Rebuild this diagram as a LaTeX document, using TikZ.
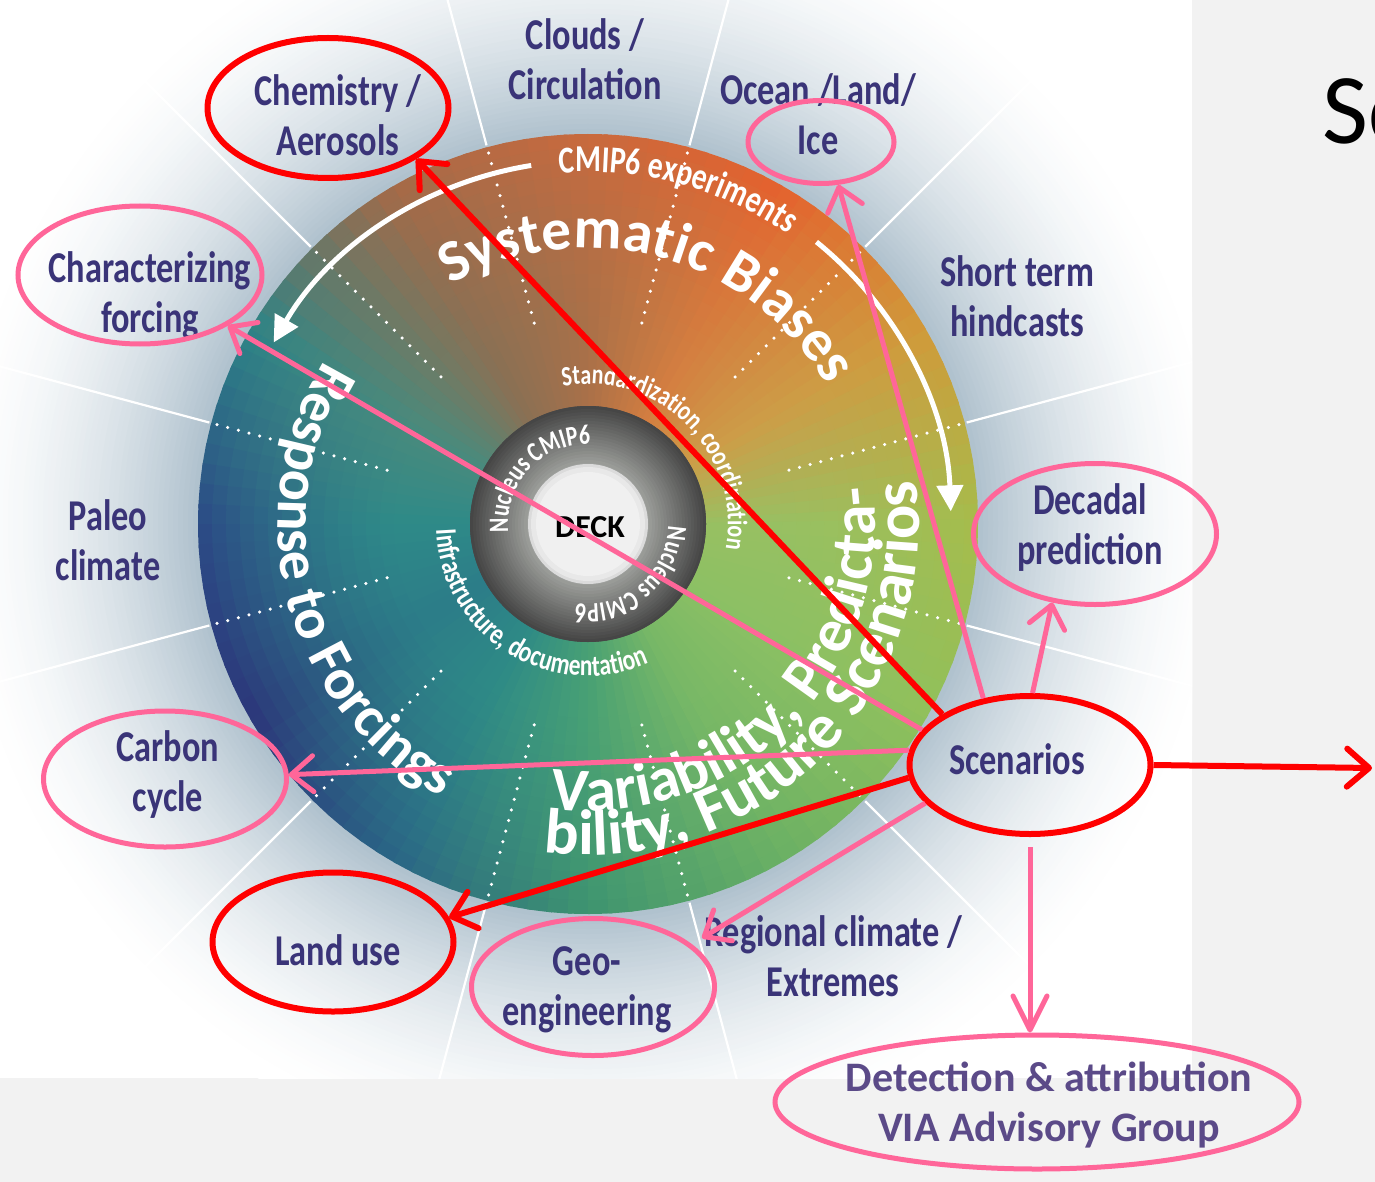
\documentclass[tikz,border=0pt]{standalone}
\usepackage{fontspec}
\setmainfont{Carlito}
\newfontfamily\condfont{Carlito}[FakeStretch=0.78]
\usetikzlibrary{shapes.geometric,arrows.meta,decorations.text}
\definecolor{labcol}{HTML}{3A3478}
\definecolor{detcol}{HTML}{5B4A88}
\definecolor{pinkcol}{HTML}{FF6699}
\definecolor{halocol}{HTML}{B0C2CE}
\definecolor{bgcol}{HTML}{F2F2F2}
\definecolor{ringdark}{HTML}{464646}
\definecolor{ringlight}{HTML}{A2A4A0}
% rim colours every 30 degrees
\definecolor{w0}{HTML}{A6BC4C}
\definecolor{w1}{HTML}{D09A3A}
\definecolor{w2}{HTML}{E4622E}
\definecolor{w3}{HTML}{C86A3E}
\definecolor{w4}{HTML}{A46A48}
\definecolor{w5}{HTML}{2E8486}
\definecolor{w6}{HTML}{2C4C86}
\definecolor{w7}{HTML}{2C387A}
\definecolor{w8}{HTML}{2A6686}
\definecolor{w9}{HTML}{3E9470}
\definecolor{w10}{HTML}{6AB064}
\definecolor{w11}{HTML}{90C05C}
\definecolor{w12}{HTML}{A6BC4C}
% inner colours every 30 degrees
\definecolor{v0}{HTML}{98C062}
\definecolor{v1}{HTML}{CC9E48}
\definecolor{v2}{HTML}{D47E40}
\definecolor{v3}{HTML}{AA7048}
\definecolor{v4}{HTML}{8A7054}
\definecolor{v5}{HTML}{4A8A7C}
\definecolor{v6}{HTML}{2E8A88}
\definecolor{v7}{HTML}{2C7C88}
\definecolor{v8}{HTML}{2E8A86}
\definecolor{v9}{HTML}{48A074}
\definecolor{v10}{HTML}{78B866}
\definecolor{v11}{HTML}{8CC064}
\definecolor{v12}{HTML}{98C062}
\newcommand{\wlab}{\condfont\bfseries\fontsize{44}{50}\selectfont}
\begin{document}
\begin{tikzpicture}[x=1pt,y=1pt,
  lab/.style={text=labcol, align=center, font=\wlab, inner sep=0pt},
  redell/.style={ellipse, draw=red, line width=6pt, inner sep=0pt},
  pinkell/.style={ellipse, draw=pinkcol, line width=5pt, inner sep=0pt},
  redline/.style={draw=red, line width=6pt, -{Straight Barb[length=22pt,width=38pt,round]}},
  pinkline/.style={draw=pinkcol, line width=5pt, -{Straight Barb[length=22pt,width=36pt,round]}},
  ctext/.style={decorate, decoration={text along path, text color=white, text align=center, text={#1}}},
  sepline/.style={white, line width=2.2pt},
  dotline/.style={white, line width=3.5pt, line cap=round, dash pattern=on 0pt off 11pt},
  warrow/.style={white, line width=5pt, -{Triangle[length=26pt,width=26pt]}}
]
\useasboundingbox (0,0) rectangle (1375,-1182);
\fill[bgcol] (0,0) rectangle (1375,-1182);
\fill[white] (0,0) rectangle (1192,-1078);
\coordinate (C) at (588,-524);
% halo
\begin{scope}
\clip (0,0) rectangle (1192,-1078);
\foreach \i in {0,...,50}{
  \pgfmathsetmacro{\hr}{645-5*\i}
  \pgfmathtruncatemacro{\hp}{100*((5*\i)/250)^1.7}
  \fill[halocol!\hp!white] (C) circle (\hr);
}
\foreach \a in {15,45,...,345}{
  \draw[sepline] ([shift={(\a:392)}]C) -- ([shift={(\a:700)}]C);
}
\end{scope}
% coloured disk: angular colours, blended from rim to inside
\foreach \rr in {390,376,...,194}{
  \pgfmathtruncatemacro{\tt}{100*((\rr-190)/200)^1.5}
  \foreach \a in {0,3,...,357}{
    \pgfmathtruncatemacro{\wk}{\a/30}
    \pgfmathtruncatemacro{\wkk}{\wk+1}
    \pgfmathtruncatemacro{\wf}{(\a+1.5-30*\wk)*10/3}
    \pgfmathsetmacro{\wb}{\a+3.7}
    \colorlet{oc}{w\wkk!\wf!w\wk}
    \colorlet{ic}{v\wkk!\wf!v\wk}
    \fill[oc!\tt!ic] (C) -- ([shift={(\a:\rr)}]C) arc (\a:\wb:\rr) -- cycle;
  }
}
\foreach \a in {15,45,...,345}{
  \draw[dotline] ([shift={(\a:384)}]C) -- ([shift={(\a:198)}]C);
}
% white arrows
\draw[warrow] ([shift={(99:363)}]C) arc (99:150:363);
\draw[warrow] ([shift={(51:363)}]C) arc (51:2:363);
% curved texts
\path[ctext={|\condfont\bfseries\fontsize{38}{38}\selectfont|CMIP6 experiments}] ([shift={(110:352)}]C) arc (110:40:352);
\path[ctext={|\bfseries\fontsize{59}{59}\selectfont|Systematic Biases}] ([shift={(135:276)}]C) arc (135:15:276);
\path[ctext={|\bfseries\fontsize{58}{58}\selectfont|Response to Forcings}] ([shift={(125:310)}]C) arc (125:265:310);
\path[ctext={|\bfseries\fontsize{62}{62}\selectfont|Variability, Predicta-}] ([shift={(-130:287)}]C) arc (-130:40:287);
\path[ctext={|\bfseries\fontsize{64}{64}\selectfont|bility, Future Scenarios}] ([shift={(-130:331)}]C) arc (-130:40:331);
\path[ctext={|\condfont\bfseries\fontsize{28}{28}\selectfont|Standardization, coordination}] ([shift={(130:140)}]C) arc (130:-40:140);
\path[ctext={|\condfont\bfseries\fontsize{30}{30}\selectfont|Infrastructure, documentation}] ([shift={(160:152)}]C) arc (160:316:152);
% nucleus ring
\fill[ringdark] (C) circle (118);
\foreach \i in {0,...,19}{
  \pgfmathsetmacro{\hr}{118-3*\i}
  \pgfmathtruncatemacro{\hp}{5*\i}
  \fill[ringlight!\hp!ringdark] (C) circle (\hr);
}
\fill[black!14] (C) circle (60);
\fill[black!9] (C) circle (57);
\fill[black!6] (C) circle (52);
\path[ctext={|\condfont\bfseries\fontsize{28}{28}\selectfont|Nucleus CMIP6}] ([shift={(200:80)}]C) arc (200:74:80);
\path[ctext={|\condfont\bfseries\fontsize{28}{28}\selectfont|Nucleus CMIP6}] ([shift={(20:80)}]C) arc (20:-120:80);
\node[font=\bfseries\fontsize{32}{32}\selectfont, text=black, inner sep=0pt] (deck) at (590,-527) {DECK};
% labels
\node[lab] (tChem) at (338,-115) {Chemistry /\\Aerosols};
\node[lab] (tClouds) at (585,-59) {Clouds /\\Circulation};
\node[lab] (tOcean) at (818,-114) {Ocean /Land/\\Ice};
\node[lab] (tShort) at (1017,-296) {Short term\\hindcasts};
\node[lab] (tDec) at (1090,-528) {Decadal\\prediction};
\node[lab] (tScen) at (1017,-759) {Scenarios};
\node[lab] (tReg) at (833,-956) {Regional climate /\\Extremes};
\node[lab] (tGeo) at (587,-990) {Geo-\\engineering};
\node[lab] (tLand) at (338,-950) {Land use};
\node[lab] (tCarb) at (168,-775) {Carbon\\cycle};
\node[lab] (tPaleo) at (108,-540) {Paleo\\climate};
\node[lab] (tChar) at (150,-296) {Characterizing\\forcing};
\node[text=detcol, align=center, inner sep=0pt, font=\bfseries\fontsize{42}{50}\selectfont] (tDet) at (1049,-1105) {Detection \& attribution\\VIA Advisory Group};
\node[anchor=base west, inner sep=0pt, text=black, font=\fontsize{100}{100}\selectfont] (tSc) at (1322,-144) {Sc};
% ellipses
\node[redell, minimum width=241pt, minimum height=140pt] (chemE) at (328,-108) {};
\node[pinkell, minimum width=146pt, minimum height=83pt] (iceE) at (821,-142) {};
\node[pinkell, minimum width=243pt, minimum height=141pt] (decE) at (1095,-534) {};
\node[redell, minimum width=241pt, minimum height=138pt] (scenE) at (1030,-765) {};
\node[pinkell, minimum width=243pt, minimum height=137pt] (geoE) at (593,-987) {};
\node[redell, minimum width=241pt, minimum height=139pt] (landE) at (333,-942) {};
\node[pinkell, minimum width=243pt, minimum height=136pt] (carbE) at (165,-779) {};
\node[pinkell, minimum width=244pt, minimum height=138pt] (charE) at (140,-275) {};
\node[pinkell, minimum width=524pt, minimum height=134pt] (detE) at (1037,-1102) {};
\coordinate (regTip) at (702,-938);
\coordinate (rightEnd) at (1372,-768);
% connectors
\draw[redline] (scenE.150) -- (chemE.-30);
\draw[pinkline] (scenE.125) -- (iceE.-68);
\draw[pinkline] (scenE.88) -- (decE.-122);
\draw[pinkline] (scenE.162) -- (charE.-30);
\draw[pinkline] (scenE.173) -- (carbE.2);
\draw[redline] (scenE.186) -- (landE.12);
\draw[pinkline] (scenE.200) -- (regTip);
\draw[redline] (scenE.east) -- (rightEnd);
\draw[pinkline, -{Straight Barb[length=34pt,width=34pt,round]}, shorten <=10pt] (scenE.south) -- (scenE.south |- detE.north);
\end{tikzpicture}
\end{document}
